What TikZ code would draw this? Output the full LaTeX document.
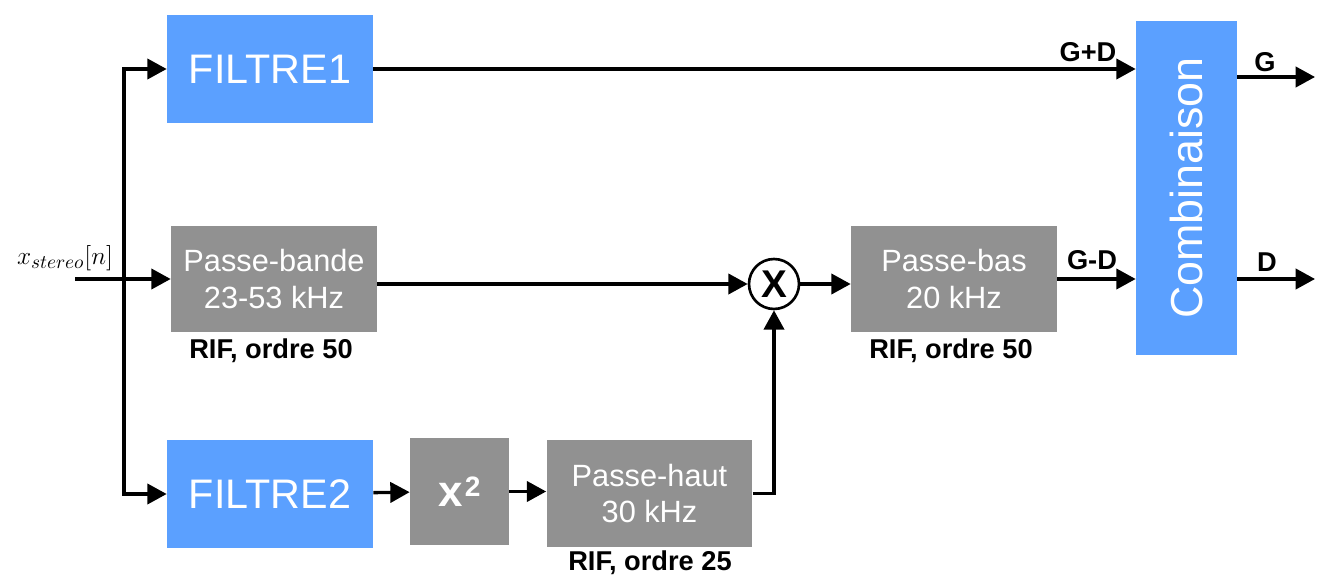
\documentclass[tikz,border=0pt]{standalone}
\usepackage{fontspec}
\setmainfont{Liberation Sans}
\usetikzlibrary{arrows.meta}
\definecolor{filtblue}{RGB}{91,160,255}
\definecolor{filtgray}{RGB}{145,145,145}
\begin{document}
\begin{tikzpicture}[x=0.02cm, y=-0.02cm,
    bluebox/.style={fill=filtblue, text=white, inner sep=0pt},
    graybox/.style={fill=filtgray, text=white, align=center, inner sep=0pt,
        font=\fontsize{17.5}{21}\selectfont, minimum width=4.12cm, minimum height=2.14cm},
    sig/.style={line width=1.9pt, -{Triangle[length=11pt,width=11.5pt]}},
    lbl/.style={font=\bfseries\fontsize{15.5}{18}\selectfont, inner sep=0pt}]
    \useasboundingbox (0,0) rectangle (1322,581);

    % Filter blocks
    \node[bluebox, minimum width=4.12cm, minimum height=2.16cm, font=\fontsize{23.5}{28}\selectfont] (F1) at (270,69) {FILTRE1};
    \node[bluebox, minimum width=4.12cm, minimum height=2.16cm, font=\fontsize{23.5}{28}\selectfont] (F2) at (270,494) {FILTRE2};
    \node[graybox] (PB) at (274,279) {Passe-bande\\23-53 kHz};
    \node[graybox, minimum width=1.98cm, font=\bfseries\fontsize{25}{28}\selectfont] (SQ) at (459.5,491.5)
        {x\kern1pt\raisebox{5.5pt}{\fontsize{16}{16}\selectfont 2}};
    \node[graybox] (PH) at (649.5,493.5) {Passe-haut\\30 kHz};
    \node[graybox] (PBas) at (954,279) {Passe-bas\\20 kHz};
    \node[draw, circle, line width=1.5pt, minimum size=1cm, inner sep=0pt,
        font=\bfseries\fontsize{22}{24}\selectfont] (M) at (774,284) {X};
    \node[bluebox, minimum width=2.02cm, minimum height=6.68cm,
        font=\fontsize{25.5}{30}\selectfont] (C) at (1186.5,188) {\rotatebox{90}{Combinaison}};

    % Filter orders
    \node[lbl] (PBr) at (271,351) {RIF, ordre 50};
    \node[lbl] (PBasr) at (951,351) {RIF, ordre 50};
    \node[lbl] (PHr) at (650,563) {RIF, ordre 25};

    % Input
    \coordinate (IN) at (75,279);
    \coordinate (J) at (124,279);
    \node (Xs) at (65,258) {\fontsize{15}{18}\selectfont$x_{stereo}[n]$};
    \draw[sig] (IN) -- (PB);
    \draw[sig] (J) |- (F1);
    \draw[sig] (J) |- (F2);

    % Signal paths
    \draw[sig] (F1) -- (F1 -| C.west);
    \draw[sig] (PB.east |- M) -- (M);
    \draw[sig] (M) -- (PBas.west |- M);
    \draw[sig] (PBas) -- (PBas -| C.west);
    \draw[sig] (F2) -- (SQ);
    \draw[sig] (SQ) -- (PH.west |- SQ);
    \draw[sig] (PH.east) -| (M.south);

    % Outputs
    \coordinate (OG) at (1315,77);
    \coordinate (OD) at (1315,279);
    \draw[sig] (C.east |- OG) -- (OG);
    \draw[sig] (C.east |- OD) -- (OD);

    % Labels
    \node[lbl] (GpD) at (1088,52) {G+D};
    \node[lbl] (GmD) at (1092,260) {G-D};
    \node[lbl] (Gl) at (1265,62) {G};
    \node[lbl] (Dl) at (1267,262) {D};
\end{tikzpicture}
\end{document}
